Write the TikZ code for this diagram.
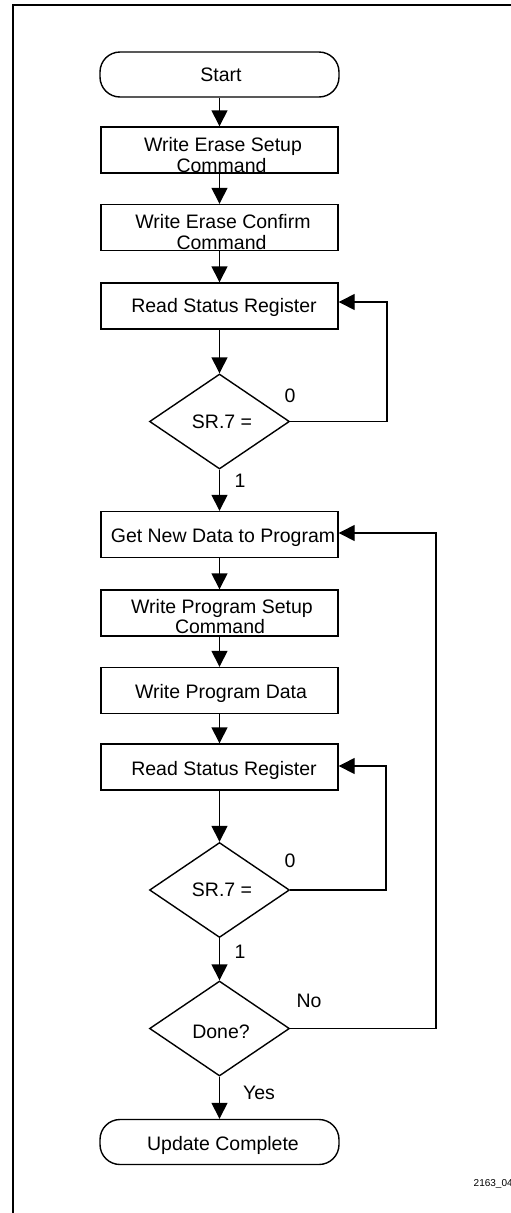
\documentclass[tikz,border=0pt]{standalone}
\usepackage{fontspec}
\setmainfont{Liberation Sans}
\usetikzlibrary{shapes.geometric,arrows.meta}
\begin{document}
\begin{tikzpicture}[x=1pt,y=-1pt,
  box/.style={draw,line width=1.4pt,rectangle,minimum width=237pt,minimum height=46pt,inner sep=0pt},
  term/.style={draw,line width=1.4pt,rectangle,rounded corners=20pt,minimum width=239pt,minimum height=45pt,inner sep=0pt},
  test/.style={draw,line width=1.4pt,diamond,minimum width=140pt,minimum height=95pt,inner sep=0pt},
  txt/.style={anchor=base,inner sep=0pt,font=\fontsize{19.5}{21}\selectfont},
  flow/.style={line width=1.4pt,-{Triangle[width=16pt,length=16pt]}},
  ]
\useasboundingbox (0,0) rectangle (511,1213);
\clip (0,0) rectangle (511,1213);

% page frame
\draw[line width=2pt] (13,1220) -- (13,5) -- (520,5);

% shapes
\node[term] (start) at (219.5,74.5) {};
\node[box]  (b1) at (219.5,150) {};
\node[box]  (b2) at (219.5,227.5) {};
\node[box]  (b3) at (219.5,306) {};
\node[test] (d1) at (219.5,421.5) {};
\node[box]  (b4) at (219.5,534.5) {};
\node[box]  (b5) at (219.5,613) {};
\node[box]  (b6) at (219.5,690.5) {};
\node[box]  (b7) at (219.5,767) {};
\node[test] (d2) at (219.5,890) {};
\node[test] (d3) at (219.5,1028.5) {};
\node[term] (done) at (219.5,1142) {};

% texts
\node[txt] (t0)  at (221,81) {Start};
\node[txt] (t1a) at (223,151) {Write Erase Setup};
\node[txt] (t1b) at (221.5,172) {Command};
\node[txt] (t2a) at (223,228) {Write Erase Confirm};
\node[txt] (t2b) at (221.5,249.5) {Command};
\node[txt] (t3)  at (224,312) {Read Status Register};
\node[txt] (t4)  at (222,428) {SR.7 =};
\node[txt] (l0a) at (290,402) {0};
\node[txt] (l1a) at (240,487) {1};
\node[txt] (t5)  at (223,542) {Get New Data to Program};
\node[txt] (t6a) at (222,613) {Write Program Setup};
\node[txt] (t6b) at (220,633.5) {Command};
\node[txt] (t7)  at (221,698) {Write Program Data};
\node[txt] (t8)  at (224,775) {Read Status Register};
\node[txt] (t9)  at (222,896) {SR.7 =};
\node[txt] (l0b) at (290,867) {0};
\node[txt] (l1b) at (240,958) {1};
\node[txt] (t10) at (221,1038) {Done?};
\node[txt] (lno) at (309,1007) {No};
\node[txt] (lyes) at (259,1099) {Yes};
\node[txt] (t11) at (223,1150) {Update Complete};
\node[anchor=base west,inner sep=0pt,font=\fontsize{10}{11}\selectfont] (code) at (473.5,1186) {2163\_04};

% main flow
\draw[flow] (start) -- (b1);
\draw[flow] (b1) -- (b2);
\draw[flow] (b2) -- (b3);
\draw[flow] (b3) -- (d1);
\draw[flow] (d1) -- (b4);
\draw[flow] (b4) -- (b5);
\draw[flow] (b5) -- (b6);
\draw[flow] (b6) -- (b7);
\draw[flow] (b7) -- (d2);
\draw[flow] (d2) -- (d3);
\draw[flow] (d3) -- (done);

% loops back
\coordinate (r1) at (387,302);
\coordinate (r2) at (386,766);
\coordinate (r3) at (436,533);
\draw[flow] (d1.east) -| (r1) -- (r1 -| b3.east);
\draw[flow] (d2.east) -| (r2) -- (r2 -| b7.east);
\draw[flow] (d3.east) -| (r3) -- (r3 -| b4.east);
\end{tikzpicture}
\end{document}
